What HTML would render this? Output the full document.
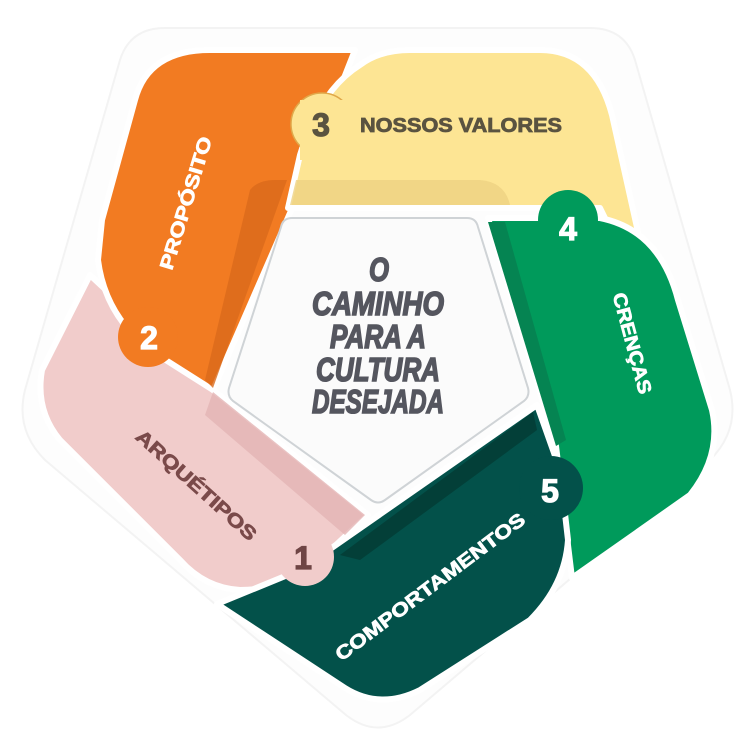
<!DOCTYPE html>
<html><head><meta charset="utf-8"><style>
html,body{margin:0;padding:0;background:#fff;width:754px;height:754px;overflow:hidden}
text{font-family:"Liberation Sans","DejaVu Sans",sans-serif;font-weight:bold}
</style></head><body>
<svg width="754" height="754" viewBox="0 0 754 754" xmlns="http://www.w3.org/2000/svg">
<path d="M200,28 L590,28 Q625,28 635,60 L730,390 Q740,430 710,460 L410,715 Q378,740 346,715 L45,460 Q15,430 25,390 L120,60 Q130,28 165,28 Z" fill="#fdfdfd" stroke="#f3f3f3" stroke-width="2" stroke-linejoin="round"/>
<g stroke="#fff" stroke-width="6" stroke-linejoin="round">
<path d="M90,275 L213,390 L368,515 L320,560 Q290,590 240,590 Q205,588 180,560 L60,440 Q35,410 42,370 Z" fill="#f1cccb"/>
<path d="M210,50 L355,50 L300,190 L213,390 L150,350 Q105,315 98,260 L102,220 L135,100 Q148,50 210,50 Z" fill="#f27b22"/>
<path d="M288,208 L300,155 Q320,90 360,65 Q380,50 410,50 L540,50 Q595,50 612,115 L662,340 L645,300 L600,208 Z" fill="#fde594"/>
<path d="M488,218 L600,218 Q660,230 678,300 L712,410 Q722,455 690,495 L572,578 L556,446 Z" fill="#009a5b"/>
<path d="M217,604 L300,570 L537,405 L560,470 L568,540 Q565,585 530,620 L420,690 Q380,710 345,688 Z" fill="#03514a"/>
</g>
<path d="M250,190 Q258,180 275,180 L287,180 L213,388 L205,380 Z" fill="#d96a1c" opacity="0.8"/>
<path d="M296,180 L480,180 Q505,182 510,205 L290,205 Z" fill="#edd282" opacity="0.8"/>
<path d="M488,222 L505,222 L566,440 L556,446 Z" fill="#058452"/>
<path d="M340,555 L533,412 L537,430 L360,560 Z" fill="#033f38"/>
<path d="M213,392 L365,515 L345,535 L205,415 Z" fill="#e4b4b4" opacity="0.8"/>
<path d="M292,218 L467,218 Q476,218 478,227 L528,388 Q530,396 524,401 L385,500 Q378,505 371,500 L233,401 Q227,396 229,388 L281,227 Q283,218 292,218 Z" fill="#fbfbfb" stroke="#cfd3d6" stroke-width="2"/>
<circle cx="322" cy="124" r="31" fill="#fde594" stroke="#e0a84a" stroke-width="1.5"/>
<path d="M300,100 L360,100 L360,160 L300,160 Z" fill="#fde594"/>
<circle cx="568" cy="220" r="30" fill="#009a5b"/>
<circle cx="551" cy="488" r="32" fill="#03514a"/>
<circle cx="305" cy="557" r="29" fill="#f1cccb"/>
<circle cx="148" cy="337" r="30" fill="#f27b22"/>
<g font-size="32" text-anchor="middle" font-weight="bold" stroke-width="1.2">
<text x="321" y="136" fill="#5a5340" stroke="#5a5340">3</text>
<text x="568" y="240" fill="#fff" stroke="#fff">4</text>
<text x="550" y="502" fill="#fff" stroke="#fff">5</text>
<text x="303" y="569" fill="#6f4545" stroke="#6f4545">1</text>
<text x="149" y="349" fill="#fff" stroke="#fff">2</text>
</g>
<text x="360" y="132" font-size="20" fill="#5a5340" stroke="#5a5340" stroke-width="0.8" font-weight="bold" textLength="202" lengthAdjust="spacingAndGlyphs">NOSSOS VALORES</text>
<g font-size="19" font-weight="bold" text-anchor="middle" stroke-width="0.7">
<text transform="translate(192,205) rotate(-73)" fill="#fff" stroke="#fff" textLength="138" lengthAdjust="spacingAndGlyphs">PROPÓSITO</text>
<text transform="translate(626,345) rotate(75)" fill="#fff" stroke="#fff" textLength="104" lengthAdjust="spacingAndGlyphs">CRENÇAS</text>
<text transform="translate(192,490) rotate(42)" fill="#7a4a4a" stroke="#7a4a4a" textLength="155" lengthAdjust="spacingAndGlyphs">ARQUÉTIPOS</text>
<text transform="translate(434,592) rotate(-37)" fill="#fff" stroke="#fff" textLength="232" lengthAdjust="spacingAndGlyphs">COMPORTAMENTOS</text>
</g>
<g font-size="33" fill="#55565f" stroke="#55565f" stroke-width="1.6" font-style="italic" font-weight="bold" text-anchor="middle">
<text x="379" y="281" textLength="20" lengthAdjust="spacingAndGlyphs">O</text>
<text x="378" y="315" textLength="132" lengthAdjust="spacingAndGlyphs">CAMINHO</text>
<text x="378" y="348" textLength="96" lengthAdjust="spacingAndGlyphs">PARA A</text>
<text x="378" y="381" textLength="124" lengthAdjust="spacingAndGlyphs">CULTURA</text>
<text x="378" y="413" textLength="132" lengthAdjust="spacingAndGlyphs">DESEJADA</text>
</g>
</svg>
</body></html>
